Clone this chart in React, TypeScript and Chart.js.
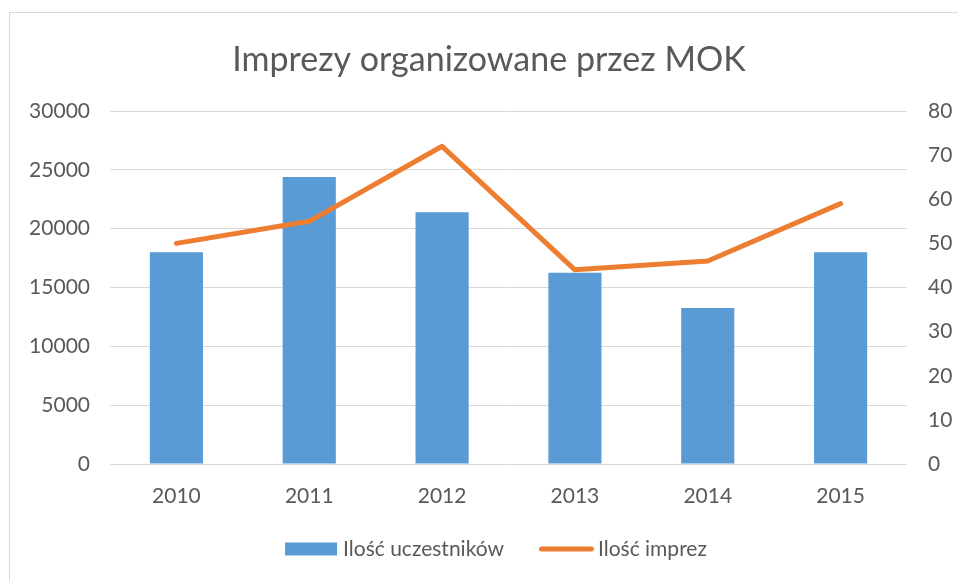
import React, { useEffect, useRef } from "react";
import { Chart, registerables } from "chart.js";

Chart.register(...registerables);

const TITLE = "Imprezy organizowane przez MOK";
const categories = ["2010", "2011", "2012", "2013", "2014", "2015"];
const participants = [18000, 24400, 21400, 16250, 13250, 18000];
const events = [50, 55, 72, 44, 46, 59];
const seriesNames = ["Ilość uczestników", "Ilość imprez"];
const leftTicks = { min: 0, max: 30000, step: 5000 };
const rightTicks = { min: 0, max: 80, step: 10 };

const BLUE = "#5B9BD5";
const ORANGE = "#ED7D31";
const TEXT = "#595959";
const GRID = "#D9D9D9";
const FONT = "Lato";
const TICK_SIZE = 21;

const decorPlugin = {
  id: "decor",
  beforeDraw(chart: any) {
    const ctx = chart.ctx;
    ctx.save();
    ctx.fillStyle = "#fff";
    ctx.fillRect(0, 0, chart.width, chart.height);
    ctx.strokeStyle = GRID;
    ctx.lineWidth = 1;
    ctx.strokeRect(9.5, 12.5, chart.width + 10, chart.height + 10);
    ctx.restore();
  },
  afterDraw(chart: any) {
    const ctx = chart.ctx;
    ctx.save();
    ctx.fillStyle = TEXT;
    ctx.font = `34px ${FONT}`;
    ctx.textAlign = "center";
    ctx.textBaseline = "middle";
    ctx.fillText(TITLE, 489, 60);
    ctx.font = `${TICK_SIZE}px ${FONT}`;
    ctx.textAlign = "left";
    const w1 = ctx.measureText(seriesNames[0]).width;
    const w2 = ctx.measureText(seriesNames[1]).width;
    const boxW = 52, gap1 = 6, between = 35, lineW = 55, gap2 = 4;
    const total = boxW + gap1 + w1 + between + lineW + gap2 + w2;
    let x = 496 - total / 2;
    const y = 549;
    ctx.fillStyle = BLUE;
    ctx.fillRect(x, y - 6.5, boxW, 13);
    x += boxW + gap1;
    ctx.fillStyle = TEXT;
    ctx.fillText(seriesNames[0], x, y);
    x += w1 + between;
    ctx.strokeStyle = ORANGE;
    ctx.lineWidth = 5;
    ctx.lineCap = "round";
    ctx.beginPath();
    ctx.moveTo(x + 2.5, y);
    ctx.lineTo(x + lineW - 2.5, y);
    ctx.stroke();
    x += lineW + gap2;
    ctx.fillStyle = TEXT;
    ctx.fillText(seriesNames[1], x, y);
    ctx.restore();
  },
};

export default function App() {
  const ref = useRef<HTMLCanvasElement | null>(null);
  useEffect(() => {
    if (!ref.current) return;
    const chart = new Chart(ref.current, {
      type: "bar",
      data: {
        labels: categories,
        datasets: [
          {
            type: "line",
            label: seriesNames[1],
            data: events,
            borderColor: ORANGE,
            backgroundColor: ORANGE,
            borderWidth: 5,
            pointRadius: 0,
            tension: 0,
            borderCapStyle: "round",
            borderJoinStyle: "round",
            yAxisID: "y2",
            order: 0,
          } as any,
          {
            type: "bar",
            label: seriesNames[0],
            data: participants,
            backgroundColor: BLUE,
            barPercentage: 0.4,
            categoryPercentage: 1,
            yAxisID: "y",
            order: 1,
          },
        ],
      },
      plugins: [decorPlugin],
      options: {
        animation: false,
        responsive: false,
        layout: { padding: { top: 111, left: 0, right: 0, bottom: 0 } },
        plugins: {
          legend: { display: false },
          title: { display: false },
          tooltip: { enabled: false },
        },
        scales: {
          x: {
            grid: { display: false },
            border: { display: false },
            ticks: { color: TEXT, font: { family: FONT, size: TICK_SIZE }, padding: 12 },
            afterFit: (s: any) => { s.height = 117; },
          },
          y: {
            position: "left",
            min: leftTicks.min,
            max: leftTicks.max,
            ticks: {
              stepSize: leftTicks.step,
              color: TEXT,
              font: { family: FONT, size: TICK_SIZE },
              padding: 20,
              callback: (v: any) => String(v),
            },
            grid: { color: GRID, lineWidth: 1, drawTicks: false },
            border: { display: false },
            afterFit: (s: any) => { s.width = 110; },
          },
          y2: {
            position: "right",
            min: rightTicks.min,
            max: rightTicks.max,
            ticks: {
              stepSize: rightTicks.step,
              color: TEXT,
              font: { family: FONT, size: TICK_SIZE },
              padding: 21,
              callback: (v: any) => String(v),
            },
            grid: { display: false, drawTicks: false },
            border: { display: false },
            afterFit: (s: any) => { s.width = 958 - 907; },
          },
        },
      },
    } as any);
    return () => chart.destroy();
  }, []);
  return (
    <div style={{ position: "fixed", left: 0, top: 0, width: 958, height: 581 }}>
      <canvas ref={ref} width={958} height={581} style={{ display: "block" }} />
    </div>
  );
}
